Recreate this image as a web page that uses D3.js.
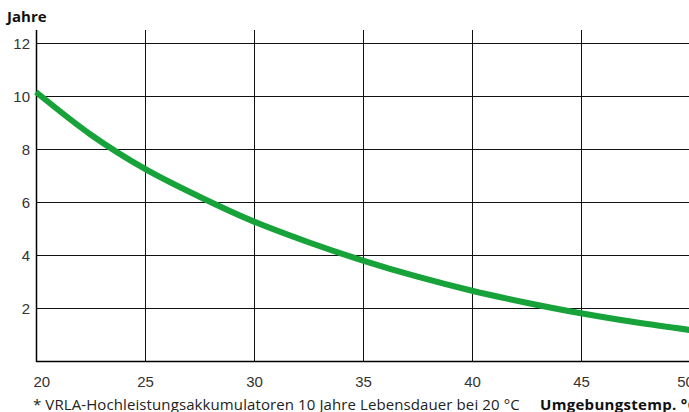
<!DOCTYPE html>
<html>
<head>
<meta charset="utf-8">
<script src="https://cdn.jsdelivr.net/npm/d3@7"></script>
<style>
  body { margin: 0; background: #fff; }
  svg { display: block; font-family: "Open Sans", "Noto Sans", sans-serif; }
  .tick text { fill: #333; font-size: 15px; }
</style>
</head>
<body>
<div id="chart"></div>
<script>
// Lebensdauer über Umgebungstemperatur
var temps = [20, 22.5, 25, 27.5, 30, 32.5, 35, 37.5, 40, 42.5, 45, 47.5, 50];
var jahre = [10.15, 8.55, 7.25, 6.2, 5.26, 4.48, 3.79, 3.18, 2.65, 2.2, 1.8, 1.46, 1.17];
var xTicks = [20, 25, 30, 35, 40, 45, 50];
var yTicks = [2, 4, 6, 8, 10, 12];

var width = 689, height = 412;
var mLeft = 36, mRight = 690, mTop = 43, mBottom = 361;

var svg = d3.select("#chart").append("svg")
    .attr("width", width)
    .attr("height", height);

var x = d3.scaleLinear().domain([20, 50]).range([mLeft, mRight]);
var y = d3.scaleLinear().domain([0, 12]).range([mBottom, mTop]);

// gitter
svg.append("g").selectAll("line")
    .data(yTicks)
    .enter().append("line")
    .attr("x1", mLeft).attr("x2", width)
    .attr("y1", d => Math.round(y(d)) + 0.5)
    .attr("y2", d => Math.round(y(d)) + 0.5)
    .attr("stroke", "#111").attr("stroke-width", 1);

svg.append("g").selectAll("line")
    .data(xTicks.slice(1))
    .enter().append("line")
    .attr("x1", d => Math.round(x(d)) + 0.5)
    .attr("x2", d => Math.round(x(d)) + 0.5)
    .attr("y1", 30).attr("y2", mBottom)
    .attr("stroke", "#111").attr("stroke-width", 1);

// achsen
svg.append("line")
    .attr("x1", mLeft + 0.5).attr("x2", mLeft + 0.5)
    .attr("y1", 30).attr("y2", mBottom + 1)
    .attr("stroke", "#000").attr("stroke-width", 1.5);
svg.append("line")
    .attr("x1", mLeft).attr("x2", width)
    .attr("y1", mBottom + 0.5).attr("y2", mBottom + 0.5)
    .attr("stroke", "#000").attr("stroke-width", 1.5);

var yAxis = svg.append("g")
    .attr("transform", "translate(" + mLeft + ",0)")
    .call(d3.axisLeft(y).tickValues(yTicks).tickSize(0).tickPadding(6));
yAxis.select(".domain").remove();
yAxis.selectAll("text").attr("dy", "0.35em");

var xAxis = svg.append("g")
    .attr("transform", "translate(0," + mBottom + ")")
    .call(d3.axisBottom(x).tickValues(xTicks).tickSize(0).tickPadding(15));
xAxis.select(".domain").remove();
xAxis.selectAll("text")
    .attr("text-anchor", d => d === 20 ? "start" : "middle")
    .attr("dx", d => d === 20 ? "-3" : (d === 50 ? "-5" : "0"));

// kurve
var line = d3.line()
    .x((d, i) => x(temps[i]))
    .y(d => y(d))
    .curve(d3.curveCatmullRom);

svg.append("path")
    .datum(jahre)
    .attr("d", line)
    .attr("fill", "none")
    .attr("stroke", "#17a23a")
    .attr("stroke-width", 6)
    .attr("stroke-linecap", "butt");

// beschriftungen
svg.append("text")
    .attr("x", 7).attr("y", 22)
    .attr("font-size", 15).attr("font-weight", "bold").attr("fill", "#111")
    .text("Jahre");

svg.append("text")
    .attr("x", 33).attr("y", 410)
    .attr("font-size", 15).attr("fill", "#222")
    .attr("letter-spacing", 0.1)
    .text("* VRLA-Hochleistungsakkumulatoren 10 Jahre Lebensdauer bei 20 °C");

svg.append("text")
    .attr("x", 540).attr("y", 410)
    .attr("font-size", 15).attr("font-weight", "bold").attr("fill", "#111")
    .attr("letter-spacing", 0.3)
    .text("Umgebungstemp. °C");
</script>
</body>
</html>
